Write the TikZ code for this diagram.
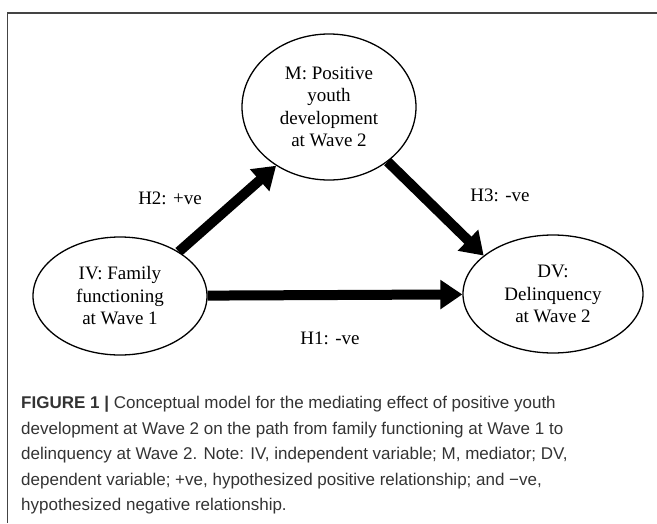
\documentclass[tikz,border=0pt]{standalone}
\usepackage{fontspec}
\setmainfont{Liberation Serif}
\setsansfont{Liberation Sans}
\usepackage{xcolor}
\usepackage{tikz}
\usetikzlibrary{shapes.geometric, arrows.meta, positioning}

\definecolor{framegray}{HTML}{444444}
\definecolor{captext}{HTML}{333333}

\begin{document}
\begin{tikzpicture}[x=1pt, y=-1pt,
    var/.style={ellipse, draw, line width=1.3pt, inner sep=0pt, align=center, font=\fontsize{19}{22.5}\selectfont},
    path/.style={line width=10pt, -{Triangle[length=22pt, width=28pt]}},
    hyp/.style={font=\fontsize{19}{22.5}\selectfont},
    caption/.style={align=left, inner sep=0pt, text=captext, font=\sffamily\fontsize{17}{25.5}\selectfont}]
    \useasboundingbox (0,0) rectangle (657,523);

    % Frame
    \draw [framegray, line width=1.5pt] (657,13) -- (7.5,13) -- (7.5,523);

    % Variables
    \node [var, minimum width=174pt, minimum height=146pt] (med) at (329,107) {M: Positive\\youth\\development\\at Wave 2};
    \node [var, minimum width=174pt, minimum height=118pt] (iv) at (120,296) {IV: Family\\functioning\\at Wave 1};
    \node [var, minimum width=180pt, minimum height=118pt] (dv) at (553,294) {DV:\\Delinquency\\at Wave 2};

    % Paths
    \draw [path] (iv) -- (dv);
    \draw [path] (iv.37) -- (med.228);
    \draw [path] (med.317) -- (dv.151);

    % Labels
    \node [hyp] (h2) at (170,198) {H2: +ve};
    \node [hyp] (h3) at (500,195) {H3: -ve};
    \node [hyp] (h1) at (330,338) {H1: -ve};

    % Caption
    \node [caption, anchor=north west] (cap) at (21,396) {\textbf{FIGURE 1 |} Conceptual model for the mediating effect of positive youth\\
      development at Wave 2 on the path from family functioning at Wave 1 to\\
      delinquency at Wave 2. Note: IV, independent variable; M, mediator; DV,\\
      dependent variable; +ve, hypothesized positive relationship; and −ve,\\
      hypothesized negative relationship.};
\end{tikzpicture}
\end{document}
